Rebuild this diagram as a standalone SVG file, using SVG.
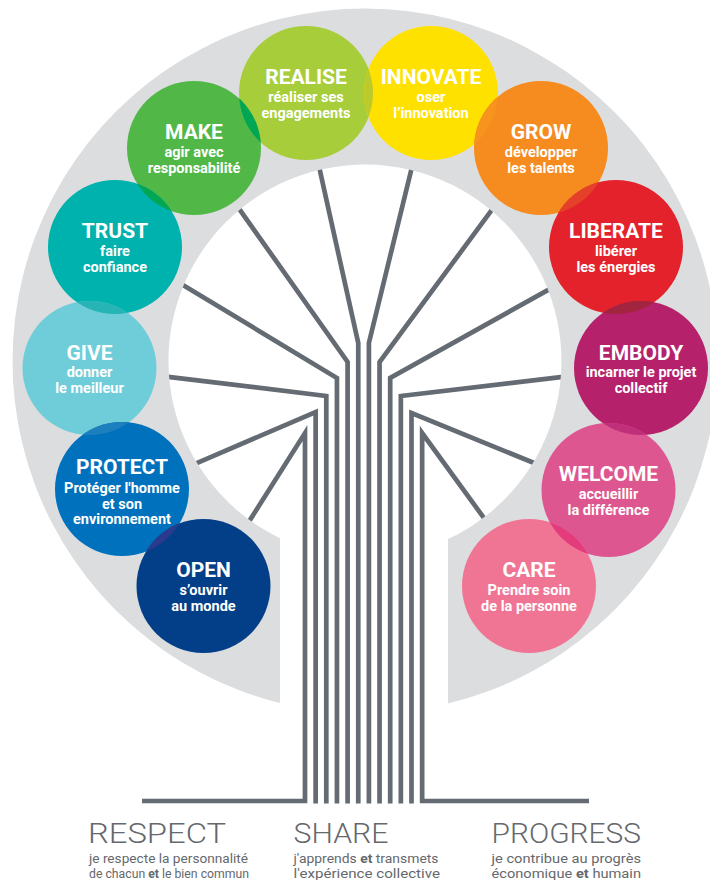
<svg xmlns="http://www.w3.org/2000/svg" width="710" height="880" viewBox="0 0 710 880">
<style>
.ttl{font-family:Roboto,"Liberation Sans",sans-serif;font-weight:700;font-size:21px;fill:#fff;text-anchor:middle}
.sub{font-family:Roboto,"Liberation Sans",sans-serif;font-weight:700;font-size:14.5px;fill:#fff;text-anchor:middle}
.br{fill:none;stroke:#646b72;stroke-width:4.7;stroke-linejoin:miter;stroke-linecap:butt}
.big{font-family:Roboto,"Liberation Sans",sans-serif;font-weight:300;font-size:28.5px;fill:#65686c}
.sm{font-family:Roboto,"Liberation Sans",sans-serif;font-weight:400;font-size:12.5px;fill:#65686c}
.b{font-weight:700}
</style>
<defs>
<clipPath id="c-realise"><circle cx="306" cy="93" r="67"/></clipPath>
<clipPath id="c-innovate"><circle cx="431" cy="93" r="67"/></clipPath>
<clipPath id="c-make"><circle cx="194" cy="148" r="67"/></clipPath>
<clipPath id="c-grow"><circle cx="541" cy="148" r="67"/></clipPath>
<clipPath id="c-trust"><circle cx="115" cy="247" r="67"/></clipPath>
<clipPath id="c-liberate"><circle cx="616" cy="247" r="67"/></clipPath>
<clipPath id="c-give"><circle cx="89.5" cy="368" r="67"/></clipPath>
<clipPath id="c-embody"><circle cx="641" cy="368" r="67"/></clipPath>
<clipPath id="c-protect"><circle cx="122" cy="489" r="67"/></clipPath>
<clipPath id="c-welcome"><circle cx="608.5" cy="490" r="67"/></clipPath>
</defs>
<rect width="710" height="880" fill="#fff"/>
<g id="connectors">
<path class="br" d="M245.7,526.8 L305,433 V801 H142"/>
<path class="br" d="M191.5,465.4 L315.65,412 V803.5"/>
<path class="br" d="M164,376.3 L326.3,396 V803.5"/>
<path class="br" d="M177.9,281.9 L336.95,378 V803.5"/>
<path class="br" d="M236.5,205.1 L347.6,362 V803.5"/>
<path class="br" d="M318.7,165.1 L358.25,343 V803.5"/>
<path class="br" d="M412.4,165.2 L368.9,343 V803.5"/>
<path class="br" d="M494.6,206.2 L379.55,362 V803.5"/>
<path class="br" d="M553.2,287.1 L390.2,378 V803.5"/>
<path class="br" d="M567,376.3 L400.85,396 V803.5"/>
<path class="br" d="M539.6,465.3 L411.5,413 V803.5"/>
<path class="br" d="M487.5,522.9 L422.15,433 V801 H589"/>
</g>
<path id="crown" fill="#dcddde" d="M280,703.1 A352.5,352.5 0 1 1 448,703.6 L448,539.1 A196.5,196.5 0 1 0 280,538.2 Z"/>
<g id="realise"><circle cx="306" cy="93" r="67" fill="#a8cd3a"/></g>
<g id="innovate"><circle cx="431" cy="93" r="67" fill="#ffe100"/></g>
<g id="make"><circle cx="194" cy="148" r="67" fill="#51b848"/></g>
<g id="grow"><circle cx="541" cy="148" r="67" fill="#f68b1f"/></g>
<g id="trust"><circle cx="115" cy="247" r="67" fill="#00b2ad"/></g>
<g id="liberate"><circle cx="616" cy="247" r="67" fill="#e3222b"/></g>
<g id="give"><circle cx="89.5" cy="368" r="67" fill="#6fcdd9"/></g>
<g id="embody"><circle cx="641" cy="368" r="67" fill="#b5216b"/></g>
<g id="protect"><circle cx="122" cy="489" r="67" fill="#0071bc"/></g>
<g id="welcome"><circle cx="608.5" cy="490" r="67" fill="#dd5690"/></g>
<g id="open"><circle cx="203.5" cy="586" r="67" fill="#033f88"/></g>
<g id="care"><circle cx="529" cy="586" r="67" fill="#f07594"/></g>
<g id="overlaps">
<circle cx="194" cy="148" r="67" fill="#00a651" clip-path="url(#c-realise)"/>
<circle cx="431" cy="93" r="67" fill="#bdca2c" clip-path="url(#c-realise)"/>
<circle cx="541" cy="148" r="67" fill="#f7941d" clip-path="url(#c-innovate)"/>
<circle cx="616" cy="247" r="67" fill="#e4402a" clip-path="url(#c-grow)"/>
<circle cx="115" cy="247" r="67" fill="#00a651" clip-path="url(#c-make)"/>
<circle cx="89.5" cy="368" r="67" fill="#26b4b5" clip-path="url(#c-trust)"/>
<circle cx="122" cy="489" r="67" fill="#1c80bf" clip-path="url(#c-give)"/>
<circle cx="203.5" cy="586" r="67" fill="#2a3a8c" clip-path="url(#c-protect)"/>
<circle cx="641" cy="368" r="67" fill="#a3243f" clip-path="url(#c-liberate)"/>
<circle cx="608.5" cy="490" r="67" fill="#c0307a" clip-path="url(#c-embody)"/>
<circle cx="529" cy="586" r="67" fill="#e33b7c" clip-path="url(#c-welcome)"/>
</g>
<g id="labels">
<text class="ttl" x="306" y="84">REALISE</text>
<text class="sub" x="306" y="101.5">réaliser ses</text>
<text class="sub" x="306" y="117.5">engagements</text>
<text class="ttl" x="431" y="84">INNOVATE</text>
<text class="sub" x="431" y="101.5">oser</text>
<text class="sub" x="431" y="117.5">l’innovation</text>
<text class="ttl" x="194" y="139">MAKE</text>
<text class="sub" x="194" y="156.5">agir avec</text>
<text class="sub" x="194" y="172.5">responsabilité</text>
<text class="ttl" x="541" y="139">GROW</text>
<text class="sub" x="541" y="156.5">développer</text>
<text class="sub" x="541" y="172.5">les talents</text>
<text class="ttl" x="115" y="238">TRUST</text>
<text class="sub" x="115" y="255.5">faire</text>
<text class="sub" x="115" y="271.5">confiance</text>
<text class="ttl" x="616" y="238">LIBERATE</text>
<text class="sub" x="616" y="255.5">libérer</text>
<text class="sub" x="616" y="271.5">les énergies</text>
<text class="ttl" x="89.5" y="359.5">GIVE</text>
<text class="sub" x="89.5" y="377">donner</text>
<text class="sub" x="89.5" y="393">le meilleur</text>
<text class="ttl" x="641" y="359.5">EMBODY</text>
<text class="sub" x="641" y="377">incarner le projet</text>
<text class="sub" x="641" y="393">collectif</text>
<text class="ttl" x="122" y="473.5">PROTECT</text>
<text class="sub" x="122" y="492.5">Protéger l'homme</text>
<text class="sub" x="122" y="508.5">et son</text>
<text class="sub" x="122" y="524">environnement</text>
<text class="ttl" x="608.5" y="481">WELCOME</text>
<text class="sub" x="608.5" y="498.5">accueillir</text>
<text class="sub" x="608.5" y="514.5">la différence</text>
<text class="ttl" x="203.5" y="577">OPEN</text>
<text class="sub" x="203.5" y="594.5">s’ouvrir</text>
<text class="sub" x="203.5" y="610.5">au monde</text>
<text class="ttl" x="529" y="577">CARE</text>
<text class="sub" x="529" y="594.5">Prendre soin</text>
<text class="sub" x="529" y="610.5">de la personne</text>
</g>
<g id="values">
<text class="big" x="88" y="843" textLength="138" lengthAdjust="spacingAndGlyphs">RESPECT</text>
<text class="sm" x="89" y="862.5" textLength="159" lengthAdjust="spacingAndGlyphs">je respecte la personnalité</text>
<text class="sm" x="89" y="877.5" textLength="160" lengthAdjust="spacingAndGlyphs">de chacun <tspan class="b">et</tspan> le bien commun</text>
<text class="big" x="293.5" y="843" textLength="95" lengthAdjust="spacingAndGlyphs">SHARE</text>
<text class="sm" x="293.5" y="862.5" textLength="145" lengthAdjust="spacingAndGlyphs">j'apprends <tspan class="b">et</tspan> transmets</text>
<text class="sm" x="293.5" y="877.5" textLength="146.5" lengthAdjust="spacingAndGlyphs">l'expérience collective</text>
<text class="big" x="491.5" y="843" textLength="149.5" lengthAdjust="spacingAndGlyphs">PROGRESS</text>
<text class="sm" x="491.5" y="862.5" textLength="149.5" lengthAdjust="spacingAndGlyphs">je contribue au progrès</text>
<text class="sm" x="491.5" y="877.5" textLength="149.5" lengthAdjust="spacingAndGlyphs">économique <tspan class="b">et</tspan> humain</text>
</g>
</svg>
